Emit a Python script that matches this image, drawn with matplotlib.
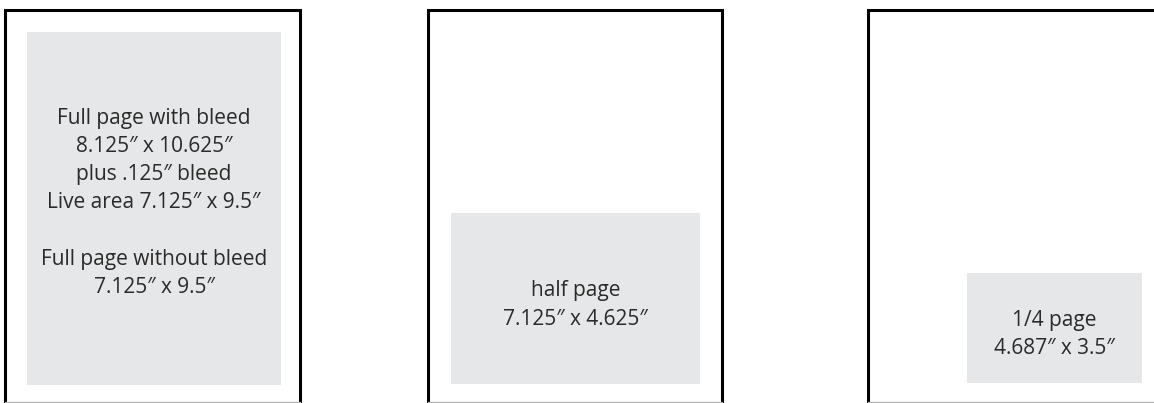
import matplotlib.pyplot as plt
from matplotlib.patches import Rectangle

# ad sizes shown on the sheet
labels = [
    ["Full page with bleed", "8.125\u2033 x 10.625\u2033", "plus .125\u2033 bleed",
     "Live area 7.125\u2033 x 9.5\u2033", "", "Full page without bleed", "7.125\u2033 x 9.5\u2033"],
    ["half page", "7.125\u2033 x 4.625\u2033"],
    ["1/4 page", "4.687\u2033 x 3.5\u2033"],
]

# page frames (left, right) and grey ad boxes (x0, y0, x1, y1), in pixels
frames = [(5, 300), (428, 722), (868, 1160)]
boxes = [(27, 32, 281, 385), (451, 213, 700, 384), (967, 273, 1142, 383)]

W, H = 1154, 403
plt.rcParams['font.family'] = ['Open Sans', 'DejaVu Sans']

fig = plt.figure(figsize=(W / 100, H / 100), dpi=100)
ax = fig.add_axes([0, 0, 1, 1])
ax.set_xlim(0, W)
ax.set_ylim(H, 0)
ax.axis('off')

top = 10
line_step = 28.3
for (left, right), (x0, y0, x1, y1), lines in zip(frames, boxes, labels):
    # open frame: black top and sides, light grey bottom edge
    ax.plot([left, left, right, right], [H + 5, top, top, H + 5],
            color='black', lw=2.2, solid_joinstyle='miter', clip_on=False)
    ax.plot([left, right], [H - 1.5, H - 1.5], color='#b5b5b5', lw=1)
    ax.add_patch(Rectangle((x0, y0), x1 - x0, y1 - y0, facecolor='#e6e7e8', edgecolor='none'))
    cx = (x0 + x1) / 2
    cy = (y0 + y1) / 2 - 5.5 if len(lines) > 2 else (y0 + y1) / 2 + 6.5
    start = cy - line_step * (len(lines) - 1) / 2
    for i, t in enumerate(lines):
        ax.text(cx, start + i * line_step, t, ha='center', va='center',
                fontsize=15, color='#2a2a2a')

fig.savefig('out.png', dpi=100)
